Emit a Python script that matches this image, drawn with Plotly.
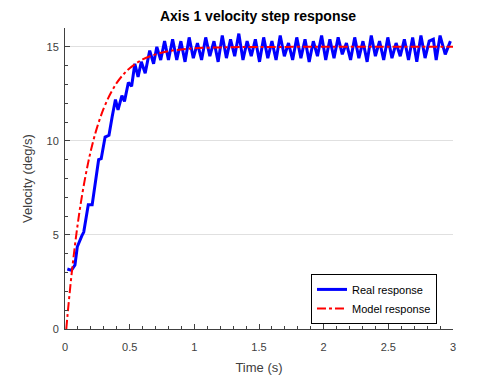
import plotly.graph_objects as go

# ---- Data ----
t_real = [0.018, 0.05, 0.077, 0.095, 0.13, 0.145, 0.18, 0.21, 0.26, 0.28,
          0.31, 0.34, 0.365, 0.39, 0.41, 0.44, 0.46, 0.49, 0.515, 0.54,
          0.565, 0.59, 0.62, 0.655, 0.685, 0.71, 0.74, 0.77, 0.80,
          0.832, 0.864, 0.896, 0.928, 0.96, 0.992, 1.024, 1.056, 1.088, 1.12,
          1.152, 1.184, 1.216, 1.248, 1.28, 1.312, 1.344, 1.376, 1.408, 1.44,
          1.472, 1.504, 1.536, 1.568, 1.6, 1.632, 1.664, 1.696, 1.728, 1.76,
          1.792, 1.824, 1.856, 1.888, 1.92, 1.952, 1.984, 2.016, 2.048, 2.08,
          2.112, 2.144, 2.176, 2.208, 2.24, 2.272, 2.304, 2.336, 2.368, 2.4,
          2.432, 2.464, 2.496, 2.528, 2.56, 2.592, 2.624, 2.656, 2.688, 2.72,
          2.752, 2.784, 2.816, 2.848, 2.87, 2.90, 2.94, 2.98]
v_real = [3.19, 3.12, 3.4, 4.37, 4.95, 5.15, 6.6, 6.6, 9.0, 9.05,
          10.2, 10.3, 11.3, 12.2, 11.65, 12.4, 12.1, 13.1, 12.9, 14.1,
          13.4, 14.2, 13.6, 14.8, 14.1, 15.0, 14.3, 15.3, 14.3,
          15.4, 14.3, 15.3, 14.2, 15.5, 14.4, 15.2, 14.3, 15.5, 14.5,
          15.3, 14.2, 15.6, 14.4, 15.4, 14.5, 15.7, 14.3, 15.3, 14.5,
          15.4, 14.2, 15.5, 14.4, 15.3, 14.3, 15.6, 14.5, 15.2, 14.3,
          15.5, 14.4, 15.4, 14.2, 15.3, 14.5, 15.6, 14.3, 15.4, 14.4,
          15.5, 14.6, 15.2, 14.3, 15.5, 14.4, 15.3, 14.2, 15.6, 14.5,
          15.3, 14.3, 15.5, 14.4, 15.2, 14.5, 15.4, 14.3, 15.5, 14.2,
          15.6, 14.4, 15.3, 15.4, 14.3, 15.6, 14.6, 15.3]

t_model = [0.01, 0.02, 0.04, 0.06, 0.08, 0.10, 0.12, 0.15, 0.18, 0.21,
           0.25, 0.30, 0.35, 0.40, 0.45, 0.50, 0.60, 0.70, 0.80, 0.90,
           1.0, 1.2, 1.5, 2.0, 2.5, 3.0]
v_model = [0.0, 0.77, 2.19, 3.47, 4.62, 5.66, 6.60, 7.82, 8.87, 9.77,
           10.76, 11.74, 12.49, 13.08, 13.52, 13.86, 14.33, 14.60, 14.77, 14.86,
           14.92, 14.97, 14.99, 15.0, 15.0, 15.0]

x_ticks = [0, 0.5, 1, 1.5, 2, 2.5, 3]
x_ticklabels = ["0", "0.5", "1", "1.5", "2", "2.5", "3"]
y_ticks = [0, 5, 10, 15]
y_ticklabels = ["0", "5", "10", "15"]

FONT = "Liberation Sans, Arial, Helvetica, sans-serif"
AXC = "#404040"

fig = go.Figure()
fig.add_trace(go.Scatter(x=t_real, y=v_real, mode="lines", name="Real response",
                         line=dict(color="#0000ff", width=3)))
fig.add_trace(go.Scatter(x=t_model, y=v_model, mode="lines", name="Model response",
                         line=dict(color="#ff0000", width=2, dash="dashdot", shape="spline")))

fig.update_layout(
    width=500, height=375,
    margin=dict(l=57, r=55, t=20, b=54),
    paper_bgcolor="white", plot_bgcolor="white",
    font=dict(family=FONT, size=11, color=AXC),
    title=dict(text="<b>Axis 1 velocity step response</b>", x=0.5, xanchor="center",
               xref="container", y=1 - 8 / 375, yanchor="middle", yref="container",
               font=dict(family=FONT, size=14, color="black")),
    showlegend=True,
    legend=dict(x=0.634, y=0.183, xanchor="left", yanchor="top",
                bgcolor="white", bordercolor="black", borderwidth=1,
                font=dict(family=FONT, size=11, color="black"),
                tracegroupgap=0, itemwidth=30),
)
fig.update_xaxes(
    range=[0, 3], tickvals=x_ticks, ticktext=x_ticklabels,
    showline=True, linecolor=AXC, linewidth=1, mirror=False, automargin=False,
    ticks="inside", ticklen=5, tickcolor=AXC, showgrid=False, zeroline=False,
    ticklabelstandoff=8,
    minor=dict(dtick=0.1, ticks="inside", ticklen=3, tickcolor=AXC, showgrid=False),
    title=dict(text="Time (s)", font=dict(family=FONT, size=13, color=AXC), standoff=10),
)
fig.update_yaxes(
    range=[0, 16], tickvals=y_ticks, ticktext=y_ticklabels,
    showline=True, linecolor=AXC, linewidth=1, mirror=False, automargin=False,
    ticks="inside", ticklen=5, tickcolor=AXC, ticklabelstandoff=3,
    showgrid=True, gridcolor="#e0e0e0", gridwidth=1, zeroline=False,
    minor=dict(dtick=1, ticks="inside", ticklen=3, tickcolor=AXC, showgrid=False),
    title=dict(text="Velocity (deg/s)", font=dict(family=FONT, size=13, color=AXC), standoff=10),
)

fig.write_html("out.html")
